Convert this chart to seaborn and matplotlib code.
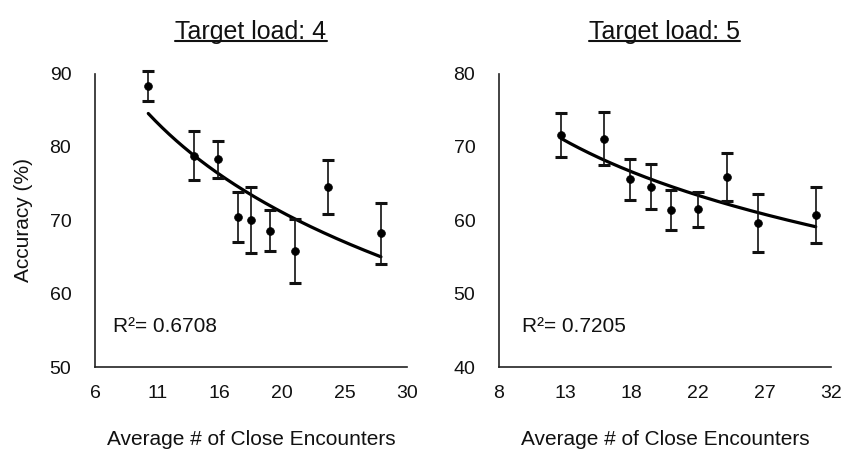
import numpy as np
import matplotlib
matplotlib.use("Agg")
import matplotlib.pyplot as plt
from matplotlib.lines import Line2D
import seaborn as sns

# target load 4
enc4 = [10.1, 13.6, 15.5, 17.0, 18.0, 19.5, 21.4, 23.9, 28.0]
acc4 = [88.3, 78.8, 78.3, 70.5, 70.0, 68.6, 65.8, 74.5, 68.2]
err4 = [2.0, 3.3, 2.5, 3.4, 4.5, 2.8, 4.4, 3.7, 4.1]
xticklabels4 = ["6", "11", "16", "20", "25", "30"]
yticks4 = [50, 60, 70, 80, 90]

# target load 5
enc5 = [12.5, 15.6, 17.5, 19.0, 20.4, 22.4, 24.5, 26.7, 30.9]
acc5 = [71.6, 71.1, 65.6, 64.6, 61.4, 61.5, 65.9, 59.6, 60.7]
err5 = [3.0, 3.6, 2.8, 3.0, 2.75, 2.4, 3.3, 3.95, 3.85]
xticklabels5 = ["8", "13", "18", "22", "27", "32"]
yticks5 = [40, 50, 60, 70, 80]

titles = ["Target load: 4", "Target load: 5"]
r2_labels = ["R\u00b2= 0.6708", "R\u00b2= 0.7205"]

sns.set_style("white")
plt.rcParams['font.family'] = ['Liberation Sans', 'DejaVu Sans']

fig = plt.figure(figsize=(8.42, 4.49), dpi=100)
ax1 = fig.add_axes([0.1128, 0.1826, 0.3705, 0.6537])
ax2 = fig.add_axes([0.5926, 0.1826, 0.3943, 0.6537])

panels = [
    (ax1, enc4, acc4, err4, xticklabels4, yticks4, titles[0], r2_labels[0], 0.058),
    (ax2, enc5, acc5, err5, xticklabels5, yticks5, titles[1], r2_labels[1], 0.07),
]

for ax, x, y, e, xtl, ytk, title, r2, r2x in panels:
    x = np.array(x)
    y = np.array(y)
    # logarithmic trendline like the spreadsheet one
    slope, icpt = np.polyfit(np.log(x), y, 1)
    xs = np.linspace(x.min(), x.max(), 200)
    sns.lineplot(x=xs, y=slope * np.log(xs) + icpt, ax=ax, color="black", linewidth=2.3)
    ax.errorbar(x, y, yerr=e, fmt="none", ecolor="#111111", elinewidth=1.2,
                capsize=4.2, capthick=2.2, clip_on=False)
    sns.scatterplot(x=x, y=y, ax=ax, color="black", s=32, edgecolor="black", zorder=5)

    lo = float(xtl[0])
    hi = float(xtl[-1])
    ax.set_xlim(lo, hi)
    ax.set_xticks(np.linspace(lo, hi, len(xtl)))
    ax.set_xticklabels(xtl)
    ax.set_ylim(ytk[0], ytk[-1])
    ax.set_yticks(ytk)

    for s in ["top", "right"]:
        ax.spines[s].set_visible(False)
    for s in ["left", "bottom"]:
        ax.spines[s].set_color("#222222")
        ax.spines[s].set_linewidth(1.2)
    ax.tick_params(axis="both", length=0, labelsize=14, colors="#111111")
    ax.tick_params(axis="y", pad=17)
    ax.tick_params(axis="x", pad=13)
    ax.set_xlabel("Average # of Close Encounters", fontsize=15, labelpad=20, color="#111111")
    ax.set_title(title, fontsize=18, pad=25, color="#111111")
    ax.text(r2x, 0.12, r2, transform=ax.transAxes, fontsize=15, color="#111111")

ax1.set_ylabel("Accuracy (%)", fontsize=15, labelpad=12, color="#111111")
ax2.set_ylabel("")

# underline the titles
fig.canvas.draw()
renderer = fig.canvas.get_renderer()
inv = fig.transFigure.inverted()
for ax in [ax1, ax2]:
    bb = ax.title.get_window_extent(renderer)
    (x0, y0), (x1, _) = inv.transform([[bb.x0, bb.y0], [bb.x1, bb.y1]])
    yline = y0 + 0.006
    fig.add_artist(Line2D([x0, x1], [yline, yline], transform=fig.transFigure,
                          color="#111111", linewidth=1.5))

fig.savefig("out.png", dpi=100)
